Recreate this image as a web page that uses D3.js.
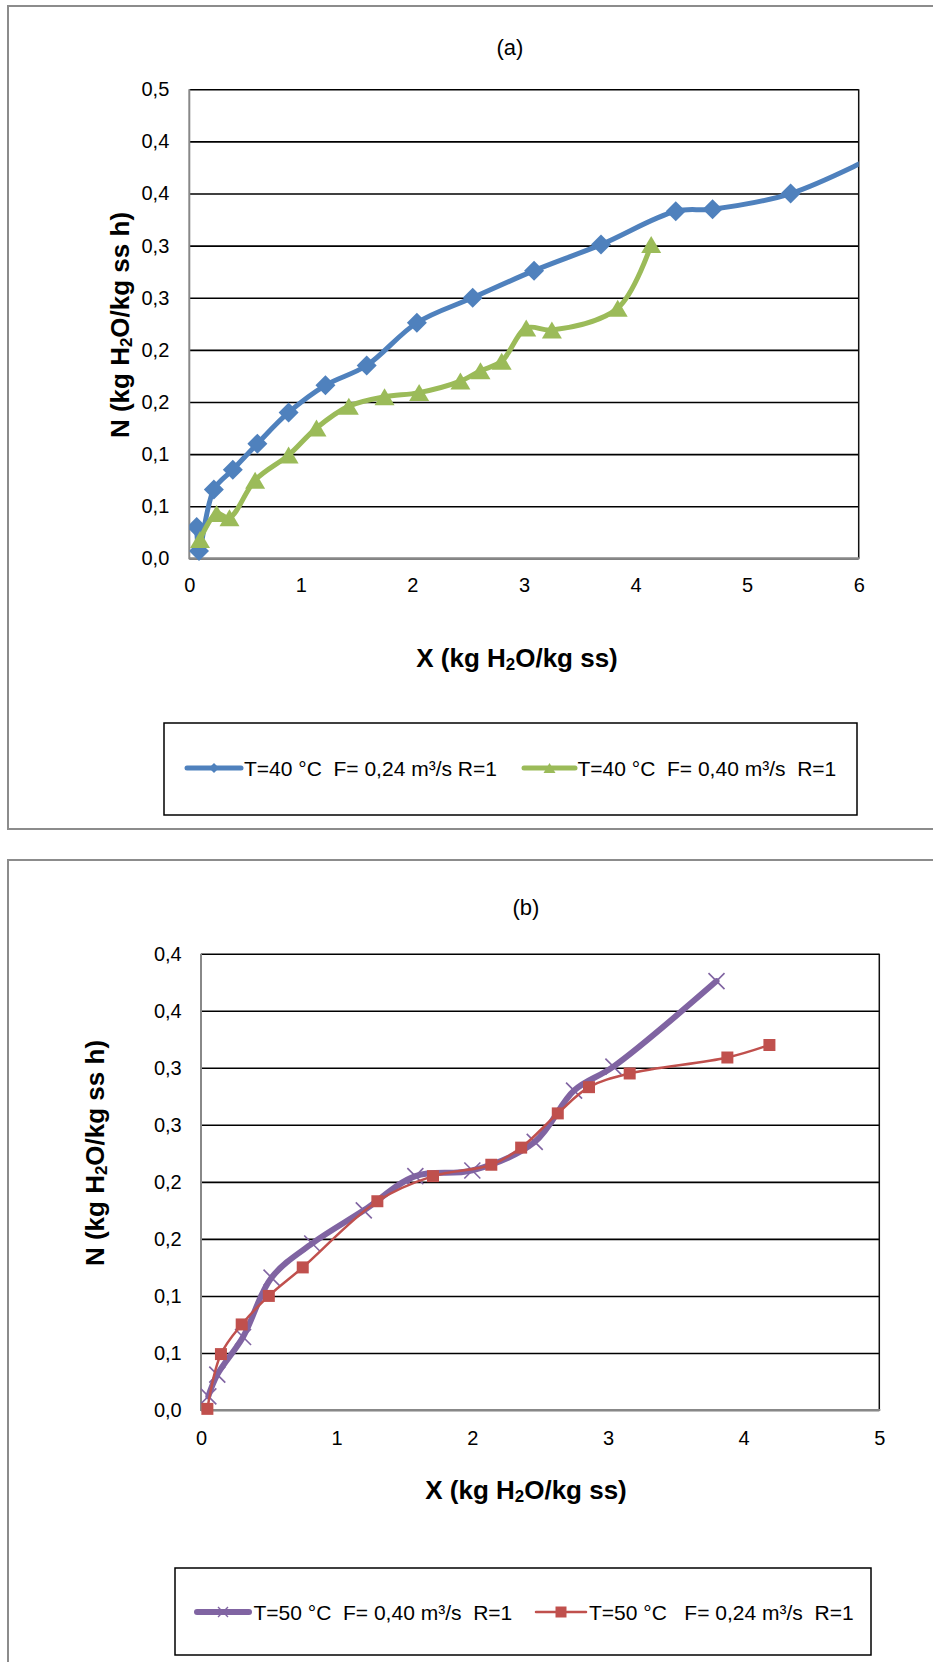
<!DOCTYPE html>
<html>
<head>
<meta charset="utf-8">
<script src="https://cdn.jsdelivr.net/npm/d3@7"></script>
<style>
body { margin: 0; background: #fff; }
svg { display: block; font-family: "Liberation Sans", Arial, sans-serif; }
</style>
</head>
<body>
<svg id="chart" width="933" height="1662"></svg>
<script>
// (a) T=40 °C
const a1X = [0.066, 0.087, 0.22, 0.39, 0.61, 0.89, 1.22, 1.59, 2.04, 2.54, 3.09, 3.69, 4.36, 4.69, 5.39, 6.3];
const a1N = [0.030, 0.007, 0.066, 0.085, 0.110, 0.140, 0.166, 0.185, 0.226, 0.250, 0.276, 0.301, 0.333, 0.335, 0.350, 0.394];
const a2X = [0.096, 0.245, 0.36, 0.59, 0.89, 1.14, 1.43, 1.75, 2.06, 2.43, 2.61, 2.80, 3.02, 3.25, 3.84, 4.14];
const a2N = [0.018, 0.043, 0.039, 0.075, 0.099, 0.125, 0.146, 0.155, 0.159, 0.170, 0.180, 0.189, 0.221, 0.219, 0.240, 0.301];

// (b) T=50 °C
const b1X = [0.054, 0.12, 0.31, 0.52, 0.82, 1.20, 1.58, 2.00, 2.46, 2.75, 3.04, 3.80];
const b1N = [0.012, 0.031, 0.064, 0.116, 0.146, 0.175, 0.205, 0.210, 0.235, 0.280, 0.301, 0.376];
const b2X = [0.047, 0.147, 0.30, 0.50, 0.75, 1.30, 1.71, 2.14, 2.36, 2.63, 2.86, 3.16, 3.88, 4.19];
const b2N = [0.001, 0.049, 0.075, 0.100, 0.125, 0.183, 0.205, 0.215, 0.230, 0.260, 0.283, 0.295, 0.309, 0.320];

const xTicksA = [0, 1, 2, 3, 4, 5, 6];
const yTicksA = [0, 0.05, 0.1, 0.15, 0.2, 0.25, 0.3, 0.35, 0.4, 0.45];
const yLabelsA = ["0,0", "0,1", "0,1", "0,2", "0,2", "0,3", "0,3", "0,4", "0,4", "0,5"];
const xTicksB = [0, 1, 2, 3, 4, 5];
const yTicksB = [0, 0.05, 0.1, 0.15, 0.2, 0.25, 0.3, 0.35, 0.4];
const yLabelsB = ["0,0", "0,1", "0,1", "0,2", "0,2", "0,3", "0,3", "0,4", "0,4"];

const legendA = ["T=40 °C  F= 0,24 m³/s R=1", "T=40 °C  F= 0,40 m³/s  R=1"];
const legendB = ["T=50 °C  F= 0,40 m³/s  R=1", "T=50 °C   F= 0,24 m³/s  R=1"];

const markers = {
  diamond: r => `M0,${-r}L${r},0L0,${r}L${-r},0Z`,
  triangle: r => `M0,${-r * 0.85}L${r},${r * 0.85}L${-r},${r * 0.85}Z`,
  cross: r => `M${-r},${-r}L${r},${r}M${r},${-r}L${-r},${r}`,
  square: r => `M${-r},${-r}h${2 * r}v${2 * r}h${-2 * r}Z`
};

const svg = d3.select("#chart");

function subText(sel, before, sub, after, size) {
  sel.append("tspan").text(before);
  sel.append("tspan").attr("font-size", size * 0.65).attr("dy", size * 0.22).text(sub);
  sel.append("tspan").attr("dy", -size * 0.22).text(after);
}

function drawChart(c) {
  const g = svg.append("g");

  // chart frame
  g.append("rect")
    .attr("x", c.frame[0]).attr("y", c.frame[1])
    .attr("width", c.frame[2]).attr("height", c.frame[3])
    .attr("fill", "none").attr("stroke", "#8c8c8c").attr("stroke-width", 2);

  g.append("text")
    .attr("x", c.titlePos[0]).attr("y", c.titlePos[1])
    .attr("text-anchor", "middle").attr("dominant-baseline", "central")
    .attr("font-size", 22)
    .text(c.title);

  const x = d3.scaleLinear().domain(c.xDomain).range([c.plot[0], c.plot[1]]);
  const y = d3.scaleLinear().domain(c.yDomain).range([c.plot[3], c.plot[2]]);
  const w = c.plot[1] - c.plot[0];

  // gridlines
  g.append("g")
    .attr("transform", `translate(${c.plot[0]},0)`)
    .call(d3.axisLeft(y).tickValues(c.yTicks).tickSize(-w).tickFormat(""))
    .call(s => s.select(".domain").remove())
    .call(s => s.selectAll("line").attr("stroke", "#000").attr("stroke-width", 1.6));

  // right border
  g.append("line")
    .attr("x1", c.plot[1]).attr("x2", c.plot[1])
    .attr("y1", c.plot[2]).attr("y2", c.plot[3])
    .attr("stroke", "#111").attr("stroke-width", 1.5);

  // y axis labels
  g.append("g")
    .attr("transform", `translate(${c.plot[0]},0)`)
    .call(d3.axisLeft(y).tickValues(c.yTicks).tickSize(0).tickPadding(c.yPad)
      .tickFormat((d, i) => c.yLabels[i]))
    .call(s => s.select(".domain").remove())
    .call(s => s.selectAll("text").attr("font-size", 20).attr("fill", "#000")
      .attr("font-family", "Liberation Sans, Arial, sans-serif"));

  // x axis labels
  g.append("g")
    .attr("transform", `translate(0,${c.plot[3]})`)
    .call(d3.axisBottom(x).tickValues(c.xTicks).tickSize(0).tickFormat(d3.format("d")))
    .call(s => s.select(".domain").remove())
    .call(s => s.selectAll("text").attr("font-size", 20).attr("fill", "#000")
      .attr("y", c.xPad).attr("dy", "0.35em")
      .attr("font-family", "Liberation Sans, Arial, sans-serif"));

  // axis lines
  g.append("line")
    .attr("x1", c.plot[0]).attr("x2", c.plot[0])
    .attr("y1", c.plot[2]).attr("y2", c.plot[3] + 1)
    .attr("stroke", "#888").attr("stroke-width", 2);
  g.append("line")
    .attr("x1", c.plot[0]).attr("x2", c.plot[1] + 1)
    .attr("y1", c.plot[3]).attr("y2", c.plot[3])
    .attr("stroke", "#888").attr("stroke-width", 2);

  // axis titles
  const xt = g.append("text")
    .attr("x", c.xTitlePos[0]).attr("y", c.xTitlePos[1])
    .attr("text-anchor", "middle").attr("dominant-baseline", "central")
    .attr("font-size", 26).attr("font-weight", "bold");
  subText(xt, "X (kg H", "2", "O/kg ss)", 26);

  const yt = g.append("text")
    .attr("transform", `translate(${c.yTitlePos[0]},${c.yTitlePos[1]}) rotate(-90)`)
    .attr("text-anchor", "middle").attr("dominant-baseline", "central")
    .attr("font-size", 26).attr("font-weight", "bold");
  subText(yt, "N (kg H", "2", "O/kg ss h)", 26);

  // series
  const clipId = "clip" + c.title.replace(/\W/g, "");
  g.append("clipPath").attr("id", clipId)
    .append("rect")
    .attr("x", c.plot[0]).attr("y", c.plot[2] - 12)
    .attr("width", w).attr("height", c.plot[3] - c.plot[2] + 24);

  const line = d3.line()
    .x(d => x(d[0])).y(d => y(d[1]))
    .curve(d3.curveCatmullRom.alpha(0.5));

  c.series.forEach(s => {
    const pts = s.xs.map((v, i) => [v, s.ys[i]]);
    const sg = g.append("g").attr("clip-path", `url(#${clipId})`);
    sg.append("path")
      .attr("d", line(pts))
      .attr("fill", "none").attr("stroke", s.color)
      .attr("stroke-width", s.width).attr("stroke-linejoin", "round").attr("stroke-linecap", "round");
    sg.selectAll(null).data(pts).enter().append("path")
      .attr("transform", d => `translate(${x(d[0])},${y(d[1])})`)
      .attr("d", markers[s.marker](s.size))
      .attr("fill", s.marker === "cross" ? "none" : s.color)
      .attr("stroke", s.color)
      .attr("stroke-width", s.marker === "cross" ? 1.6 : 0);
  });

  // legend
  const L = c.legend;
  g.append("rect")
    .attr("x", L.box[0]).attr("y", L.box[1])
    .attr("width", L.box[2]).attr("height", L.box[3])
    .attr("fill", "#fff").attr("stroke", "#000").attr("stroke-width", 1.5);
  c.series.forEach((s, i) => {
    const it = L.items[i];
    g.append("line")
      .attr("x1", it[0]).attr("x2", it[1]).attr("y1", L.cy).attr("y2", L.cy)
      .attr("stroke", s.color).attr("stroke-width", s.width).attr("stroke-linecap", "round");
    g.append("path")
      .attr("transform", `translate(${(it[0] + it[1]) / 2},${L.cy})`)
      .attr("d", markers[s.marker](s.legendSize))
      .attr("fill", s.marker === "cross" ? "none" : s.color)
      .attr("stroke", s.color).attr("stroke-width", s.marker === "cross" ? 1.4 : 0);
    g.append("text")
      .attr("x", it[2]).attr("y", L.cy)
      .attr("dominant-baseline", "central")
      .attr("font-size", 21)
      .style("white-space", "pre")
      .text(L.labels[i]);
  });
}

drawChart({
  title: "(a)",
  frame: [8, 6, 930, 823],
  titlePos: [510, 47],
  plot: [189.3, 858.7, 89.3, 558.3],
  xDomain: [0, 6], yDomain: [0, 0.45],
  xTicks: xTicksA, yTicks: yTicksA, yLabels: yLabelsA,
  yPad: 20, xPad: 27,
  xTitlePos: [517, 658],
  yTitlePos: [120, 325],
  series: [
    { xs: a1X, ys: a1N, color: "#4F81BD", width: 5, marker: "diamond", size: 10, legendSize: 5 },
    { xs: a2X, ys: a2N, color: "#9BBB59", width: 5, marker: "triangle", size: 10, legendSize: 6 }
  ],
  legend: {
    box: [164, 723, 693, 92], cy: 768,
    items: [[187, 241, 244], [524, 575, 577.5]],
    labels: legendA
  }
});

drawChart({
  title: "(b)",
  frame: [8, 860, 930, 820],
  titlePos: [526, 907],
  plot: [201, 879.3, 953.7, 1410],
  xDomain: [0, 5], yDomain: [0, 0.4],
  xTicks: xTicksB, yTicks: yTicksB, yLabels: yLabelsB,
  yPad: 19.3, xPad: 28,
  xTitlePos: [526, 1490],
  yTitlePos: [95, 1153],
  series: [
    { xs: b1X, ys: b1N, color: "#8064A2", width: 6, marker: "cross", size: 8, legendSize: 5 },
    { xs: b2X, ys: b2N, color: "#C0504D", width: 2.5, marker: "square", size: 6, legendSize: 5.5 }
  ],
  legend: {
    box: [175, 1568, 696, 87], cy: 1612,
    items: [[197, 249, 253.5], [536, 586, 589]],
    labels: legendB
  }
});
</script>
</body>
</html>
